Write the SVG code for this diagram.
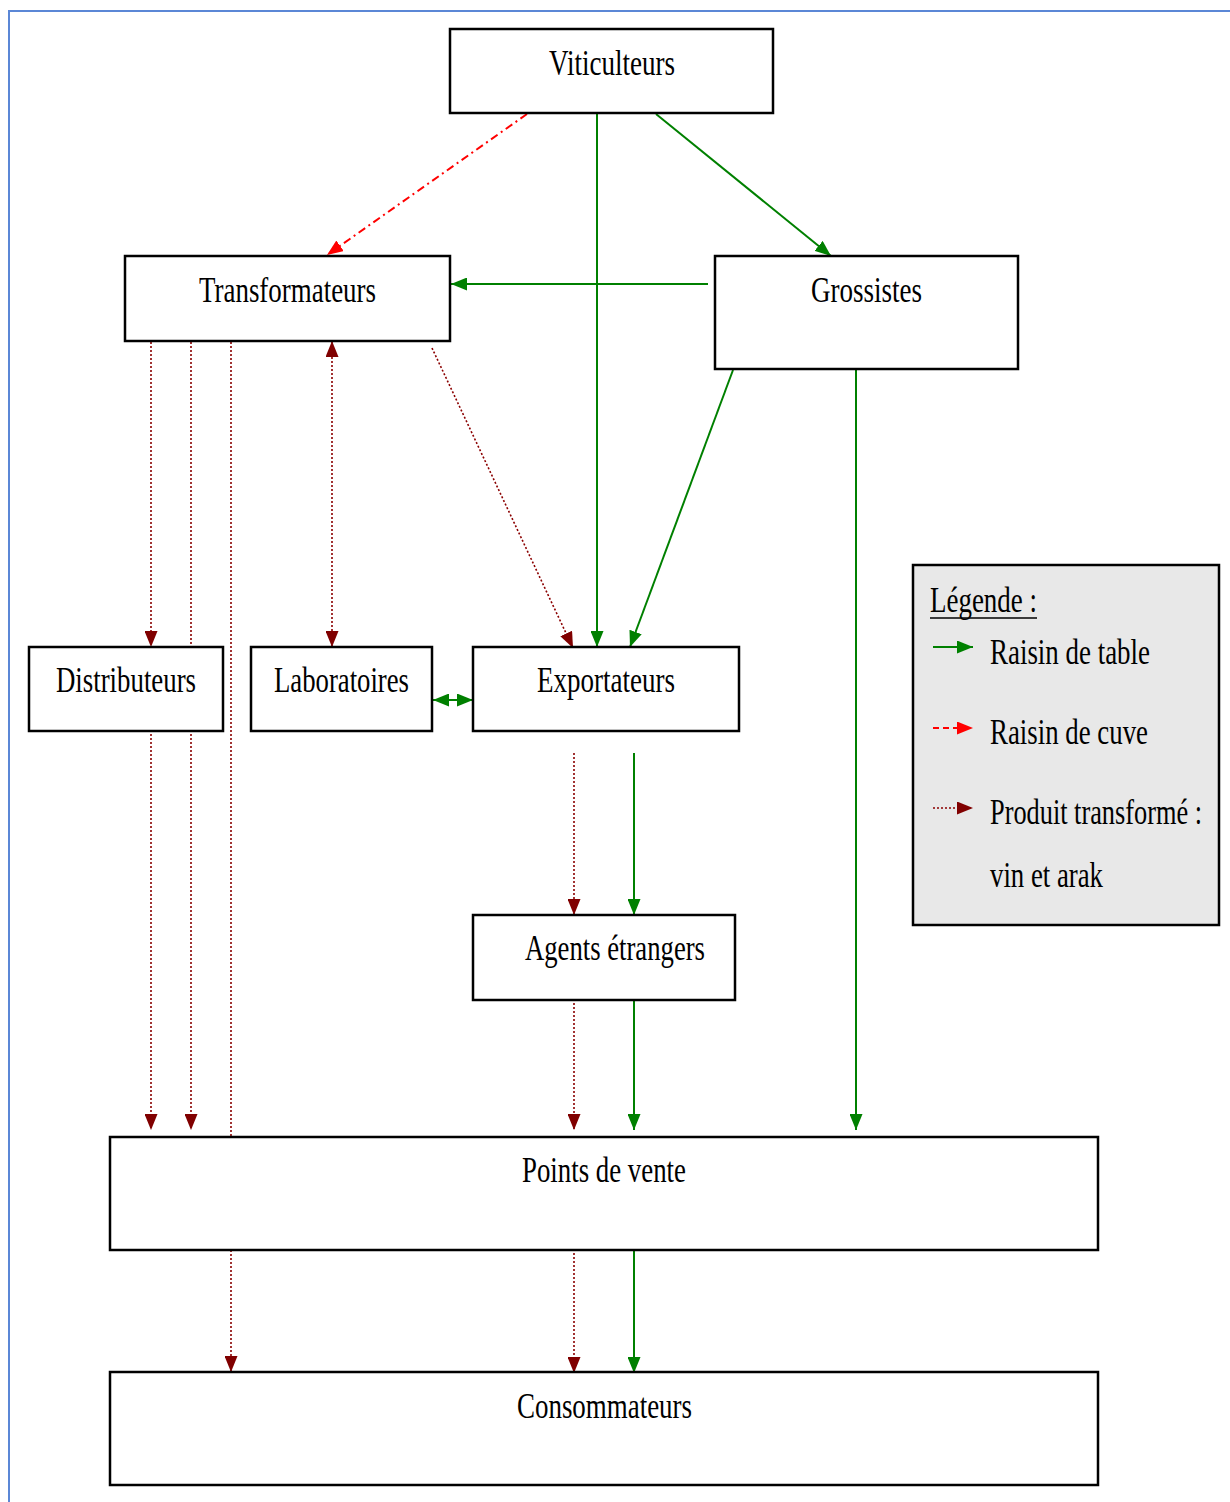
<svg xmlns="http://www.w3.org/2000/svg" width="1230" height="1502" viewBox="0 0 1230 1502">
<style>
.box{fill:#fff;stroke:#000;stroke-width:2.5}
.lbl{font-family:"Liberation Serif","Times New Roman",serif;font-size:36px;fill:#000}
.g{stroke:#008000;stroke-width:2;fill:none}
.r{stroke:#ff0000;stroke-width:2;fill:none;stroke-dasharray:8 4 2 4}
.d{stroke:#8b0000;stroke-width:1.6;fill:none;stroke-dasharray:2 2}
</style>
<defs>
<marker id="ag" markerUnits="userSpaceOnUse" markerWidth="16" markerHeight="13" refX="16" refY="6.5" orient="auto-start-reverse"><path d="M0,0 L16,6.5 L0,13 z" fill="#008000"/></marker>
<marker id="ar" markerUnits="userSpaceOnUse" markerWidth="16" markerHeight="13" refX="16" refY="6.5" orient="auto-start-reverse"><path d="M0,0 L16,6.5 L0,13 z" fill="#ff0000"/></marker>
<marker id="ad" markerUnits="userSpaceOnUse" markerWidth="16" markerHeight="13" refX="16" refY="6.5" orient="auto-start-reverse"><path d="M0,0 L16,6.5 L0,13 z" fill="#800000"/></marker>
</defs>
<rect width="1230" height="1502" fill="#fff"/>
<g id="frame"><path d="M9,1502 L9,11 L1230,11" fill="none" stroke="#5b87d6" stroke-width="2"/></g>
<g id="connectors">
<line class="r" x1="527" y1="114" x2="327" y2="255" marker-end="url(#ar)"/>
<line class="g" x1="597" y1="114" x2="597" y2="647" marker-end="url(#ag)"/>
<line class="g" x1="656" y1="114" x2="831" y2="256" marker-end="url(#ag)"/>
<line class="g" x1="708" y1="284" x2="451" y2="284" marker-end="url(#ag)"/>
<line class="g" x1="733" y1="370" x2="630" y2="647" marker-end="url(#ag)"/>
<line class="g" x1="856" y1="370" x2="856" y2="1130" marker-end="url(#ag)"/>
<line class="d" x1="151" y1="342" x2="151" y2="647" marker-end="url(#ad)"/>
<line class="d" x1="191" y1="342" x2="191" y2="1130" marker-end="url(#ad)"/>
<line class="d" x1="231" y1="342" x2="231" y2="1372" marker-end="url(#ad)"/>
<line class="d" x1="332" y1="341" x2="332" y2="647" marker-start="url(#ad)" marker-end="url(#ad)"/>
<line class="d" x1="432" y1="348" x2="573" y2="648" marker-end="url(#ad)"/>
<line class="d" x1="151" y1="734" x2="151" y2="1130" marker-end="url(#ad)"/>
<line class="g" x1="433" y1="700" x2="473" y2="700" marker-start="url(#ag)" marker-end="url(#ag)"/>
<line class="d" x1="574" y1="753" x2="574" y2="915" marker-end="url(#ad)"/>
<line class="g" x1="634" y1="753" x2="634" y2="915" marker-end="url(#ag)"/>
<line class="d" x1="574" y1="1003" x2="574" y2="1130" marker-end="url(#ad)"/>
<line class="g" x1="634" y1="1000" x2="634" y2="1130" marker-end="url(#ag)"/>
<line class="d" x1="574" y1="1253" x2="574" y2="1373" marker-end="url(#ad)"/>
<line class="g" x1="634" y1="1250" x2="634" y2="1373" marker-end="url(#ag)"/>
</g>
<g id="viticulteurs"><rect class="box" x="450" y="29" width="323" height="84"/><text class="lbl" x="549" y="75" textLength="126" lengthAdjust="spacingAndGlyphs">Viticulteurs</text></g>
<g id="transformateurs"><rect class="box" x="125" y="256" width="325" height="85"/><text class="lbl" x="199" y="302" textLength="177" lengthAdjust="spacingAndGlyphs">Transformateurs</text></g>
<g id="grossistes"><rect class="box" x="715" y="256" width="303" height="113"/><text class="lbl" x="811" y="302" textLength="111" lengthAdjust="spacingAndGlyphs">Grossistes</text></g>
<g id="distributeurs"><rect class="box" x="29" y="647" width="194" height="84"/><text class="lbl" x="56" y="692" textLength="140" lengthAdjust="spacingAndGlyphs">Distributeurs</text></g>
<g id="laboratoires"><rect class="box" x="251" y="647" width="181" height="84"/><text class="lbl" x="274" y="692" textLength="135" lengthAdjust="spacingAndGlyphs">Laboratoires</text></g>
<g id="exportateurs"><rect class="box" x="473" y="647" width="266" height="84"/><text class="lbl" x="537" y="692" textLength="138" lengthAdjust="spacingAndGlyphs">Exportateurs</text></g>
<g id="agents"><rect class="box" x="473" y="915" width="262" height="85"/><text class="lbl" x="525" y="960" textLength="180" lengthAdjust="spacingAndGlyphs">Agents étrangers</text></g>
<g id="points-de-vente"><rect class="box" x="110" y="1137" width="988" height="113"/><text class="lbl" x="522" y="1182" textLength="164" lengthAdjust="spacingAndGlyphs">Points de vente</text></g>
<g id="consommateurs"><rect class="box" x="110" y="1372" width="988" height="113"/><text class="lbl" x="517" y="1418" textLength="175" lengthAdjust="spacingAndGlyphs">Consommateurs</text></g>
<g id="legende">
<rect x="913" y="565" width="306" height="360" fill="#e8e8e8" stroke="#000" stroke-width="2.5"/>
<text class="lbl" x="930" y="612" textLength="107" lengthAdjust="spacingAndGlyphs">Légende :</text>
<line x1="930" y1="618" x2="1037" y2="618" stroke="#000" stroke-width="1.5"/>
<line class="g" x1="933" y1="647" x2="973" y2="647" marker-end="url(#ag)"/>
<text class="lbl" x="990" y="664" textLength="160" lengthAdjust="spacingAndGlyphs">Raisin de table</text>
<line x1="933" y1="728" x2="973" y2="728" stroke="#ff0000" stroke-width="2" stroke-dasharray="6 4" marker-end="url(#ar)"/>
<text class="lbl" x="990" y="744" textLength="158" lengthAdjust="spacingAndGlyphs">Raisin de cuve</text>
<line class="d" x1="933" y1="808" x2="973" y2="808" marker-end="url(#ad)"/>
<text class="lbl" x="990" y="824" textLength="212" lengthAdjust="spacingAndGlyphs">Produit transformé :</text>
<text class="lbl" x="990" y="887" textLength="113" lengthAdjust="spacingAndGlyphs">vin et arak</text>
</g>
</svg>
